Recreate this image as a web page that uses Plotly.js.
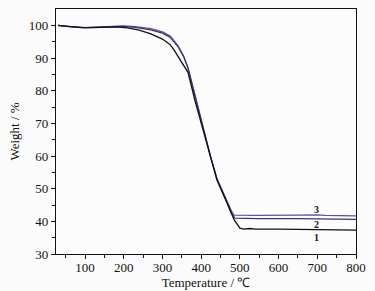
<!DOCTYPE html>
<html>
<head>
<meta charset="utf-8">
<script src="https://cdn.plot.ly/plotly-3.0.1.min.js"></script>
<style>html,body{margin:0;padding:0;background:#fbfbfb;}#chart{width:375px;height:291px;}</style>
</head>
<body>
<div id="chart"></div>
<script>
// Curve 1 (black)
const t1 = [30, 60, 90, 120, 150, 180, 210, 240, 270, 300, 320, 330, 345, 355, 366, 384, 405, 425, 441, 467, 485, 500, 510, 526, 540, 600, 660, 670, 700, 750, 800];
const w1 = [100, 99.6, 99.3, 99.3, 99.4, 99.5, 99.2, 98.5, 97.4, 95.8, 94.1, 92.5, 89.6, 87.5, 85.6, 77, 67.9, 59.3, 52.6, 45.6, 40.5, 37.9, 37.6, 37.8, 37.6, 37.6, 37.5, 37.3, 37.3, 37.3, 37.3];
// Curve 2 (navy)
const t2 = [30, 60, 100, 150, 200, 230, 270, 300, 320, 340, 355, 366, 384, 405, 425, 441, 467, 478, 487, 550, 650, 700, 800];
const w2 = [100, 99.6, 99.3, 99.5, 99.7, 99.4, 98.6, 97.6, 96.3, 93.5, 90.3, 86.9, 78.4, 68.4, 59.4, 52.9, 45.7, 42.6, 41.0, 40.8, 40.8, 40.8, 40.6];
// Curve 3 (blue-purple)
const t3 = [30, 60, 100, 150, 200, 230, 270, 300, 320, 340, 355, 366, 384, 405, 425, 441, 467, 478, 485, 550, 650, 700, 720, 800];
const w3 = [100, 99.6, 99.3, 99.5, 99.8, 99.6, 99.0, 98.0, 96.7, 93.8, 90.5, 87, 78.5, 68.5, 59.5, 53, 45.8, 43.2, 41.9, 41.8, 41.9, 42.0, 41.8, 41.7];
const curveLabels = ['1', '2', '3'];
const labelT = [698, 698, 698];
const labelW = [35.0, 38.9, 43.5];

const font = {family: '"Liberation Serif", "Times New Roman", serif', size: 13, color: '#111'};
const traces = [
  {x: t3, y: w3, mode: 'lines', line: {color: '#5b50a8', width: 1.3}, hoverinfo: 'skip'},
  {x: t2, y: w2, mode: 'lines', line: {color: '#35357a', width: 1.2}, hoverinfo: 'skip'},
  {x: t1, y: w1, mode: 'lines', line: {color: '#111111', width: 1.3}, hoverinfo: 'skip'}
];
const annotations = curveLabels.map((s, i) => ({
  x: labelT[i], y: labelW[i], xref: 'x', yref: 'y', text: '<b>' + s + '</b>',
  showarrow: false, font: {family: font.family, size: 10, color: '#111'}
}));
const layout = {
  width: 375, height: 291,
  margin: {l: 56, r: 19, t: 9, b: 37},
  paper_bgcolor: '#fbfbfb', plot_bgcolor: '#fcfcfc',
  showlegend: false,
  font: font,
  xaxis: {
    range: [25, 800], tickvals: [100, 200, 300, 400, 500, 600, 700, 800],
    ticks: 'outside', ticklen: 4, tickwidth: 1, tickcolor: '#111',
    ticklabelstandoff: -3,
    minor: {tickvals: [50, 150, 250, 350, 450, 550, 650, 750], ticks: 'outside', ticklen: 2.5, tickcolor: '#111'},
    showline: true, linecolor: '#111', linewidth: 1.2, mirror: true,
    showgrid: false, zeroline: false, tickfont: font,
    title: {text: 'Temperature / ℃', font: font, standoff: 4}
  },
  yaxis: {
    range: [30, 105], tickvals: [30, 40, 50, 60, 70, 80, 90, 100],
    ticks: 'outside', ticklen: 4, tickwidth: 1, tickcolor: '#111',
    minor: {tickvals: [35, 45, 55, 65, 75, 85, 95], ticks: 'outside', ticklen: 2.5, tickcolor: '#111'},
    showline: true, linecolor: '#111', linewidth: 1.2, mirror: true,
    showgrid: false, zeroline: false, tickfont: font,
    title: {text: 'Weight / %', font: font, standoff: 6}
  },
  annotations: annotations
};
Plotly.newPlot('chart', traces, layout, {displayModeBar: false, staticPlot: true});
</script>
</body>
</html>
